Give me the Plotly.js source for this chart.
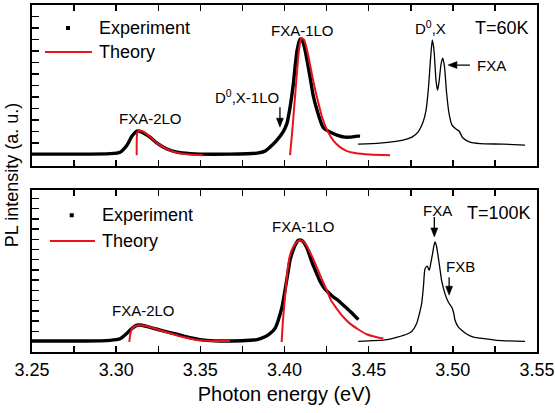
<!DOCTYPE html>
<html>
<head>
<meta charset="utf-8">
<script src="https://cdn.plot.ly/plotly-3.0.1.min.js"></script>
<style>html,body{margin:0;padding:0;background:#fff;}#chart{width:555px;height:413px;}</style>
</head>
<body>
<div id="chart"></div>
<script>
// ---------- T = 60 K (top panel) ----------
var top_exp_x = [3.25,3.2785,3.2963,3.3023,3.3064,3.3094,3.3124,3.3153,3.3201,3.3243,3.3302,3.3361,3.3439,3.3498,3.3676,3.3837,3.3884,3.3914,3.3950,3.3991,3.4015,3.4033,3.4051,3.4063,3.4075,3.4093,3.4110,3.4128,3.4152,3.4170,3.4193,3.4229,3.4270,3.4312,3.4359,3.4389,3.4431,3.4449];
var top_exp_y = [1.02,1.02,1.06,1.19,1.80,2.59,3.03,2.94,2.50,1.98,1.46,1.19,1.06,1.02,1.02,1.11,1.28,1.63,2.15,2.94,3.72,5.11,6.95,8.61,10.09,11.05,10.78,9.65,7.73,6.16,4.86,3.37,2.94,2.68,2.50,2.50,2.59,2.59];

var top_th1_x = [3.4033,3.4045,3.4057,3.4069,3.4081,3.4093,3.4102,3.4117,3.4134,3.4152,3.4176,3.4200,3.4223,3.4253,3.4288,3.4330,3.4371,3.4419,3.4508,3.4627];
var top_th1_y = [0.93,2.85,5.03,7.21,9.39,10.78,11.13,10.96,10.09,8.78,7.04,5.55,4.25,3.11,2.24,1.63,1.28,1.11,0.98,0.93];

var top_th2_x = [3.3122,3.3126,3.3136,3.3153,3.3189,3.3243,3.3302,3.3361,3.3439,3.3516];
var top_th2_y = [0.93,2.94,3.07,3.03,2.68,1.98,1.46,1.15,0.98,0.93];

var top_edge_x = [3.4437,3.4567,3.4704,3.4757,3.4793,3.4823,3.4841,3.4855,3.4867,3.4878,3.4888,3.4900,3.4909,3.4918,3.4930,3.4940,3.4950,3.4963,3.4977,3.4995,3.5019,3.5037,3.5060,3.5102,3.5161,3.5298,3.5429];
var top_edge_y = [1.89,1.98,2.24,2.50,2.94,3.81,4.86,6.77,9.22,10.96,10.09,7.47,6.60,7.30,8.87,9.39,8.69,6.34,4.59,3.55,3.20,3.03,2.42,2.07,1.94,1.89,1.80];

// ---------- T = 100 K (bottom panel) ----------
var bot_exp_x = [3.25,3.2785,3.2963,3.3023,3.3064,3.3094,3.3124,3.3153,3.3201,3.3243,3.3302,3.3361,3.3439,3.3498,3.3587,3.3694,3.3795,3.3837,3.3884,3.3914,3.3944,3.3963,3.3985,3.4003,3.4021,3.4033,3.4051,3.4063,3.4082,3.4098,3.4112,3.4134,3.4152,3.4170,3.4191,3.4211,3.4231,3.4259,3.4290,3.4318,3.4350,3.4389,3.4439];
var bot_exp_y = [1.07,1.07,1.14,1.29,1.83,2.31,2.61,2.61,2.41,2.22,1.97,1.73,1.39,1.21,1.09,1.07,1.14,1.21,1.48,1.80,2.31,3.10,4.37,6.03,7.78,8.96,9.93,10.42,10.91,10.91,10.74,10.13,9.28,8.47,7.66,6.90,6.35,5.83,5.37,5.05,4.56,3.97,3.16];

var bot_th1_x = [3.3983,3.3991,3.4003,3.4023,3.4036,3.4052,3.4071,3.4092,3.4116,3.4141,3.4163,3.4191,3.4217,3.4251,3.4276,3.4310,3.4348,3.4389,3.4437,3.4488,3.4538,3.4587];
var bot_th1_y = [0.98,3.10,5.37,8.63,9.64,10.25,10.71,10.91,10.71,10.10,9.35,8.30,7.29,6.03,5.05,4.24,3.44,2.77,2.22,1.73,1.48,1.31];

var bot_th2_x = [3.3078,3.3085,3.3094,3.3112,3.3142,3.3171,3.3213,3.3260,3.3320,3.3397,3.3451,3.3498,3.3587,3.3676];
var bot_th2_y = [0.98,1.83,2.27,2.51,2.61,2.56,2.36,2.12,1.83,1.46,1.27,1.14,1.07,1.07];

var bot_edge_x = [3.4438,3.4607,3.4726,3.4757,3.4785,3.4802,3.4815,3.4826,3.4835,3.4848,3.4860,3.4870,3.4878,3.4887,3.4894,3.4903,3.4913,3.4923,3.4933,3.4953,3.4973,3.4993,3.5004,3.5013,3.5030,3.5053,3.5084,3.5122,3.5191,3.5261,3.5429];
var bot_edge_y = [1.04,1.21,1.73,2.02,2.77,3.78,4.73,6.51,8.14,8.37,7.98,8.76,9.44,10.32,10.74,10.32,9.28,8.17,7.00,5.70,4.88,4.39,3.88,3.10,2.51,2.12,1.73,1.46,1.29,1.14,1.04];

// ---------- text ----------
var xTickVals = [3.25,3.30,3.35,3.40,3.45,3.50,3.55];
var xTickText = ['3.25','3.30','3.35','3.40','3.45','3.50','3.55'];
var xTitle = 'Photon energy (eV)';
var yTitle = 'PL intensity (a. u.)';
var legendExp = 'Experiment';
var legendTh = 'Theory';

var RED = '#e8141c';
var FONT = 'Liberation Sans, Arial, sans-serif';

function tr(x, y, xa, ya, color, width) {
  return {x: x, y: y, xaxis: xa, yaxis: ya, type: 'scatter', mode: 'lines',
          line: {color: color, width: width, shape: 'spline', smoothing: 0.6},
          showlegend: false, hoverinfo: 'skip'};
}

var data = [
  tr(top_edge_x, top_edge_y, 'x2', 'y2', '#000', 1.3),
  tr(top_exp_x, top_exp_y, 'x2', 'y2', '#000', 3.4),
  tr(top_th2_x, top_th2_y, 'x2', 'y2', RED, 2),
  tr(top_th1_x, top_th1_y, 'x2', 'y2', RED, 2),
  tr(bot_edge_x, bot_edge_y, 'x', 'y', '#000', 1.3),
  tr(bot_exp_x, bot_exp_y, 'x', 'y', '#000', 3.4),
  tr(bot_th2_x, bot_th2_y, 'x', 'y', RED, 2),
  tr(bot_th1_x, bot_th1_y, 'x', 'y', RED, 2)
];

var xCommon = {
  range: [3.25, 3.55], showgrid: false, zeroline: false,
  showline: true, linecolor: '#000', linewidth: 2, mirror: 'ticks',
  ticks: 'inside', ticklen: 6, tickwidth: 1.5, tickcolor: '#000',
  tickvals: xTickVals, ticktext: xTickText,
  minor: {ticks: 'inside', dtick: 0.025, tick0: 3.25, ticklen: 6, tickwidth: 1.5, tickcolor: '#000'},
  tickfont: {family: FONT, size: 18, color: '#000'}
};
var yCommon = {
  showgrid: false, zeroline: false, showline: true, linecolor: '#000', linewidth: 2, mirror: true,
  ticks: 'inside', ticklen: 7, tickwidth: 1.5, tickcolor: '#000', dtick: 1, tick0: 0,
  showticklabels: false
};

// arrow built from a shaft line and a filled head, in pixel offsets from its tip
function arrowShapes(xr, yr, x, y, dir, len) {
  var head, shaft;
  if (dir === 'down') {
    head = 'M0,0 L-3.5,9 L3.5,9 Z';
    shaft = {x0: 0, x1: 0, y0: 6, y1: len};
  } else { // pointing left
    head = 'M0,0 L9,-3.5 L9,3.5 Z';
    shaft = {x0: 6, x1: len, y0: 0, y1: 0};
  }
  return [
    Object.assign({type: 'line', xref: xr, yref: yr, xsizemode: 'pixel', ysizemode: 'pixel',
      xanchor: x, yanchor: y, line: {color: '#000', width: 1.3}}, shaft),
    {type: 'path', xref: xr, yref: yr, xsizemode: 'pixel', ysizemode: 'pixel',
      xanchor: x, yanchor: y, path: head, fillcolor: '#000', line: {color: '#000', width: 0.5}}
  ];
}

var layout = {
  width: 555, height: 413,
  margin: {l: 32, r: 18, t: 5, b: 61.3},
  paper_bgcolor: '#fff', plot_bgcolor: '#fff',
  font: {family: FONT, color: '#000'},
  xaxis: Object.assign({}, xCommon, {anchor: 'y', domain: [0, 1],
    title: {text: xTitle, standoff: 8, font: {family: FONT, size: 20, color: '#000'}}}),
  xaxis2: Object.assign({}, xCommon, {anchor: 'y2', domain: [0, 1], showticklabels: false}),
  yaxis: Object.assign({}, yCommon, {domain: [0, 0.4664], range: [0, 15.79], anchor: 'x'}),
  yaxis2: Object.assign({}, yCommon, {domain: [0.5365, 1], range: [0, 14.01], anchor: 'x2'}),
  shapes: [
    // legend symbols, top
    {type: 'rect', xref: 'x2', yref: 'y2', xsizemode: 'pixel', ysizemode: 'pixel', xanchor: 3.2714, yanchor: 12.0,
     x0: -2, x1: 2, y0: -2, y1: 2, fillcolor: '#000', line: {width: 0}},
    {type: 'line', xref: 'x2', yref: 'y2', x0: 3.2577, x1: 3.2856, y0: 9.91, y1: 9.91, line: {color: RED, width: 2}},
    // legend symbols, bottom
    {type: 'rect', xref: 'x', yref: 'y', xsizemode: 'pixel', ysizemode: 'pixel', xanchor: 3.2736, yanchor: 13.35,
     x0: -2, x1: 2, y0: -2, y1: 2, fillcolor: '#000', line: {width: 0}},
    {type: 'line', xref: 'x', yref: 'y', x0: 3.2607, x1: 3.2874, y0: 10.84, y1: 10.84, line: {color: RED, width: 2}}
  ].concat(
    arrowShapes('x2', 'y2', 3.3973, 3.37, 'down', 20),
    arrowShapes('x2', 'y2', 3.4971, 8.78, 'left', 22),
    arrowShapes('x', 'y', 3.4890, 11.23, 'down', 20),
    arrowShapes('x', 'y', 3.4978, 5.54, 'down', 18)
  ),
  annotations: []
};

function txt(x, y, xr, yr, t, size, xanchor) {
  return {x: x, y: y, xref: xr, yref: yr, text: t, showarrow: false,
          xanchor: xanchor || 'center', yanchor: 'middle',
          font: {family: FONT, size: size, color: '#000'}};
}

layout.annotations.push(
  // top panel
  txt(3.2886, 12.0, 'x2', 'y2', legendExp, 18, 'left'),
  txt(3.2886, 9.91, 'x2', 'y2', legendTh, 18, 'left'),
  txt(3.3201, 4.16, 'x2', 'y2', 'FXA-2LO', 15),
  txt(3.3777, 6.05, 'x2', 'y2', 'D<sup>0</sup>,X-1LO', 15),
  txt(3.4104, 11.83, 'x2', 'y2', 'FXA-1LO', 15),
  txt(3.4870, 12.05, 'x2', 'y2', 'D<sup>0</sup>,X', 15),
  txt(3.5292, 12.0, 'x2', 'y2', 'T=60K', 18),
  txt(3.5132, 8.78, 'x2', 'y2', 'FXA', 15, 'left'),
  // bottom panel
  txt(3.2904, 13.35, 'x', 'y', legendExp, 18, 'left'),
  txt(3.2904, 10.84, 'x', 'y', legendTh, 18, 'left'),
  txt(3.3165, 4.0, 'x', 'y', 'FXA-2LO', 15),
  txt(3.4110, 12.21, 'x', 'y', 'FXA-1LO', 15),
  txt(3.4906, 13.77, 'x', 'y', 'FXA', 15),
  txt(3.5274, 13.54, 'x', 'y', 'T=100K', 18),
  txt(3.5043, 8.37, 'x', 'y', 'FXB', 15),
  // y axis title spanning both panels
  {x: -0.0396, y: 0.5097, xref: 'paper', yref: 'paper', text: yTitle, showarrow: false, textangle: -90,
   xanchor: 'center', yanchor: 'middle', font: {family: FONT, size: 18, color: '#000'}}
);

Plotly.newPlot('chart', data, layout, {displayModeBar: false, staticPlot: true});
</script>
</body>
</html>
